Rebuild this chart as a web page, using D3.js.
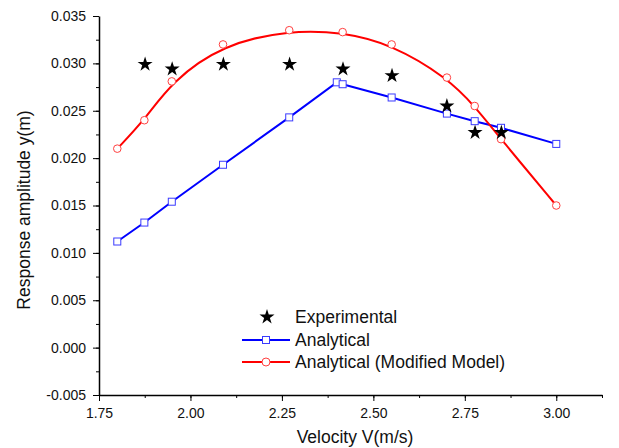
<!DOCTYPE html>
<html>
<head>
<meta charset="utf-8">
<script src="https://cdn.jsdelivr.net/npm/d3@7"></script>
<style>
  body { margin: 0; background: #fff; }
  svg { display: block; font-family: Arial, "Liberation Sans", sans-serif; }
  .axis path, .axis line { stroke: #000; }
  .axis text { font-size: 14px; fill: #111; }
  .title { font-size: 17.5px; fill: #111; }
  .legend text { font-size: 17.5px; fill: #111; }
</style>
</head>
<body>
<div id="chart"></div>
<script>
// velocity values (m/s)
const velocity = [1.80, 1.874, 1.949, 2.089, 2.270, 2.416, 2.550, 2.701, 2.777, 2.849, 3.00]
const analyticalV = [1.80, 1.874, 1.949, 2.089, 2.270, 2.400, 2.416, 2.550, 2.701, 2.777, 2.849, 3.00]
const experimentalV = [1.876, 1.950, 2.090, 2.271, 2.417, 2.551, 2.701, 2.778, 2.850]

// response amplitude (m)
const experimental = [0.0299, 0.0294, 0.0299, 0.0299, 0.0294, 0.0287, 0.0255, 0.0227, 0.0227]
const analytical = [0.0112, 0.0132, 0.0154, 0.0193, 0.0243, 0.0280, 0.0278, 0.0264, 0.0247, 0.0239, 0.0232, 0.0215]
const modified = [0.0210, 0.0240, 0.0281, 0.0320, 0.0335, 0.0333, 0.0320, 0.0285, 0.0255, 0.0220, 0.0150]

const xMajor = [1.75, 2.00, 2.25, 2.50, 2.75, 3.00]
const yMajor = [-0.005, 0.000, 0.005, 0.010, 0.015, 0.020, 0.025, 0.030, 0.035]

const legendItems = ['Experimental', 'Analytical', 'Analytical (Modified Model)']

const width = 619
const height = 448
const margin = { top: 16, right: 17, bottom: 53, left: 99 }

const svg = d3.select('#chart')
  .append('svg')
  .attr('width', width)
  .attr('height', height)

const x = d3.scaleLinear()
  .domain([1.75, 3.125])
  .range([margin.left, width - margin.right])

const y = d3.scaleLinear()
  .domain([-0.005, 0.035])
  .range([height - margin.bottom, margin.top])

const fmtX = d => d.toFixed(2)
const fmtY = d => (Math.abs(d) < 1e-9 ? 0 : d).toFixed(3)

// minor ticks halfway between majors
const xMinor = d3.range(0, 12).map(i => 1.75 + 0.125 * i).filter(v => v <= 3.1251)
const yMinor = d3.range(0, 17).map(i => -0.005 + 0.0025 * i)

// axes
svg.append('g')
  .attr('class', 'axis')
  .attr('transform', `translate(0,${y(-0.005)})`)
  .call(d3.axisBottom(x).tickValues(xMinor).tickSize(3).tickFormat(''))
  .call(g => g.select('.domain').remove())

const xAxis = svg.append('g')
  .attr('class', 'axis')
  .attr('transform', `translate(0,${y(-0.005)})`)
  .call(d3.axisBottom(x).tickValues(xMajor).tickSize(6).tickSizeOuter(0).tickPadding(7).tickFormat(fmtX))
xAxis.select('.domain').attr('stroke-width', 1.5)

svg.append('g')
  .attr('class', 'axis')
  .attr('transform', `translate(${x(1.75)},0)`)
  .call(d3.axisLeft(y).tickValues(yMinor).tickSize(3).tickFormat(''))
  .call(g => g.select('.domain').remove())

const yAxis = svg.append('g')
  .attr('class', 'axis')
  .attr('transform', `translate(${x(1.75)},0)`)
  .call(d3.axisLeft(y).tickValues(yMajor).tickSize(6).tickSizeOuter(0).tickPadding(7).tickFormat(fmtY))
yAxis.select('.domain').attr('stroke-width', 1.5)

// axis titles
svg.append('text')
  .attr('class', 'title')
  .attr('x', 355)
  .attr('y', 443)
  .attr('text-anchor', 'middle')
  .text('Velocity V(m/s)')

svg.append('text')
  .attr('class', 'title')
  .attr('transform', `translate(30,210) rotate(-90)`)
  .attr('text-anchor', 'middle')
  .text('Response amplitude y(m)')

// series
const blue = '#0000ff'
const red = '#ff0000'

const analyticalData = analyticalV.map((v, i) => [v, analytical[i]])
const modifiedData = velocity.map((v, i) => [v, modified[i]])
const expData = experimentalV.map((v, i) => [v, experimental[i]])

const line = d3.line().x(d => x(d[0])).y(d => y(d[1]))

svg.append('path')
  .datum(analyticalData)
  .attr('fill', 'none')
  .attr('stroke', blue)
  .attr('stroke-width', 2)
  .attr('d', line)

svg.append('path')
  .datum(modifiedData)
  .attr('fill', 'none')
  .attr('stroke', red)
  .attr('stroke-width', 2)
  .attr('d', line.curve(d3.curveBasis))

svg.append('g')
  .selectAll('rect')
  .data(analyticalData)
  .join('rect')
  .attr('x', d => x(d[0]) - 3.5)
  .attr('y', d => y(d[1]) - 3.5)
  .attr('width', 7)
  .attr('height', 7)
  .attr('fill', '#fff')
  .attr('stroke', '#3a3aff')
  .attr('stroke-width', 1)

svg.append('g')
  .selectAll('circle')
  .data(modifiedData)
  .join('circle')
  .attr('cx', d => x(d[0]))
  .attr('cy', d => y(d[1]))
  .attr('r', 3.8)
  .attr('fill', '#fff')
  .attr('stroke', '#ff4040')
  .attr('stroke-width', 1)

const star = d3.symbol().type(d3.symbolStar).size(70)

svg.append('g')
  .selectAll('path')
  .data(expData)
  .join('path')
  .attr('transform', d => `translate(${x(d[0])},${y(d[1])})`)
  .attr('d', star)
  .attr('fill', '#000')

// legend
const legend = svg.append('g').attr('class', 'legend')
const rowY = [317, 340, 362]

legend.append('path')
  .attr('transform', `translate(267,${rowY[0]})`)
  .attr('d', star)
  .attr('fill', '#000')

legend.append('line')
  .attr('x1', 242).attr('x2', 290)
  .attr('y1', rowY[1]).attr('y2', rowY[1])
  .attr('stroke', blue).attr('stroke-width', 2)
legend.append('rect')
  .attr('x', 266 - 3.5).attr('y', rowY[1] - 3.5)
  .attr('width', 7).attr('height', 7)
  .attr('fill', '#fff').attr('stroke', '#3a3aff')

legend.append('line')
  .attr('x1', 242).attr('x2', 290)
  .attr('y1', rowY[2]).attr('y2', rowY[2])
  .attr('stroke', red).attr('stroke-width', 2)
legend.append('circle')
  .attr('cx', 266).attr('cy', rowY[2]).attr('r', 4)
  .attr('fill', '#fff').attr('stroke', '#ff4040')

legend.selectAll('text')
  .data(legendItems)
  .join('text')
  .attr('x', 295)
  .attr('y', (d, i) => rowY[i])
  .attr('dy', '0.36em')
  .text(d => d)
</script>
</body>
</html>
